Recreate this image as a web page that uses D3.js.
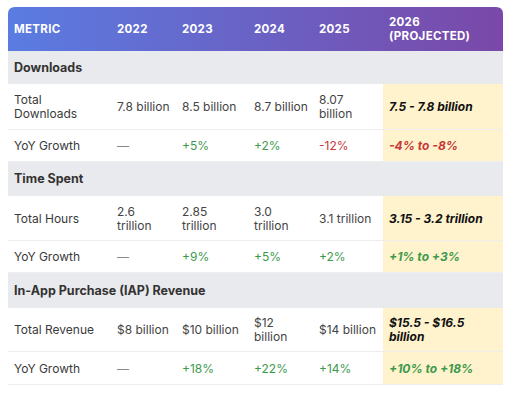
<!DOCTYPE html>
<html><head><meta charset="utf-8">
<script src="https://cdn.jsdelivr.net/npm/d3@7"></script>
<style>body{margin:0;background:#fff;font-family:Inter,"Noto Sans",sans-serif}</style>
</head><body><svg id="c" width="512" height="400"></svg>
<script>
const headers = ["METRIC","2022","2023","2024","2025","2026\n(PROJECTED)"];
const sections = ["Downloads","Time Spent","In-App Purchase (IAP) Revenue"];
const metrics = [["Total\nDownloads","YoY Growth"],["Total Hours","YoY Growth"],["Total Revenue","YoY Growth"]];
const values = [
 [["7.8 billion","8.5 billion","8.7 billion","8.07\nbillion","7.5 - 7.8 billion"],["—","+5%","+2%","-12%","-4% to -8%"]],
 [["2.6\ntrillion","2.85\ntrillion","3.0\ntrillion","3.1 trillion","3.15 - 3.2 trillion"],["—","+9%","+5%","+2%","+1% to +3%"]],
 [["$8 billion","$10 billion","$12\nbillion","$14 billion","$15.5 - $16.5\nbillion"],["—","+18%","+22%","+14%","+10% to +18%"]]
];
const colX = [14,117,182,254,319,389];
const projLeft = 383, L = 8, R = 503;
const svg = d3.select("#c");
const defs = svg.append("defs");
const g = defs.append("linearGradient").attr("id","hg");
g.append("stop").attr("offset","0%").attr("stop-color","#5a7ce2");
g.append("stop").attr("offset","100%").attr("stop-color","#7a48a8");
const rows=[]; let y=51;
const hSec=[33,34,35], hTot=[46,45,44], hYoY=[32,32,33];
sections.forEach((s,i)=>{
 rows.push({type:"sec",text:s,y,h:hSec[i]}); y+=hSec[i];
 rows.push({type:"val",label:metrics[i][0],vals:values[i][0],y,h:hTot[i],growth:false}); y+=hTot[i];
 rows.push({type:"val",label:metrics[i][1],vals:values[i][1],y,h:hYoY[i],growth:true}); y+=hYoY[i];
});
svg.append("path").attr("d",`M${L},51V14Q${L},7 ${L+7},7H${R-7}Q${R},7 ${R},14V51Z`).attr("fill","url(#hg)");
function txt(x,yc,s,opts){
 const lines=s.split("\n"); const lh=opts.lh||14;
 const t=svg.append("text").attr("x",x).attr("font-size",opts.size||12).attr("fill",opts.fill||"#333")
  .attr("font-weight",opts.weight||400).attr("font-style",opts.style||"normal").attr("letter-spacing",opts.ls||0);
 lines.forEach((ln,i)=>t.append("tspan").attr("x",x).attr("y",yc+(i-(lines.length-1)/2)*lh).attr("dy","0.35em").text(ln));
}
headers.forEach((h,i)=>txt(colX[i],29,h,{fill:"#fff",weight:700,size:11.5,ls:0.3}));
rows.forEach(r=>{
 if(r.type==="sec"){
  svg.append("rect").attr("x",L).attr("y",r.y).attr("width",R-L).attr("height",r.h).attr("fill","#e9eaed");
  txt(14,r.y+r.h/2,r.text,{weight:700,fill:"#333",size:12.5});
 } else {
  svg.append("rect").attr("x",projLeft).attr("y",r.y).attr("width",R-projLeft).attr("height",r.h).attr("fill","#fff3cd");
  svg.append("line").attr("x1",L).attr("x2",R).attr("y1",r.y+r.h-0.5).attr("y2",r.y+r.h-0.5).attr("stroke","#eeeeee");
  txt(14,r.y+r.h/2,r.label,{fill:"#3a3a3a"});
  r.vals.forEach((v,j)=>{
   let fill="#444";
   if(r.growth){ fill = v.startsWith("+")?"#3d9a4c":v.startsWith("-")?"#c6383a":"#888"; }
   const proj=j===4;
   if(proj && !r.growth) fill="#111";
   txt(colX[j+1],r.y+r.h/2,v,{fill,weight:proj?700:400,style:proj?"italic":"normal"});
  });
 }
});
</script></body></html>
